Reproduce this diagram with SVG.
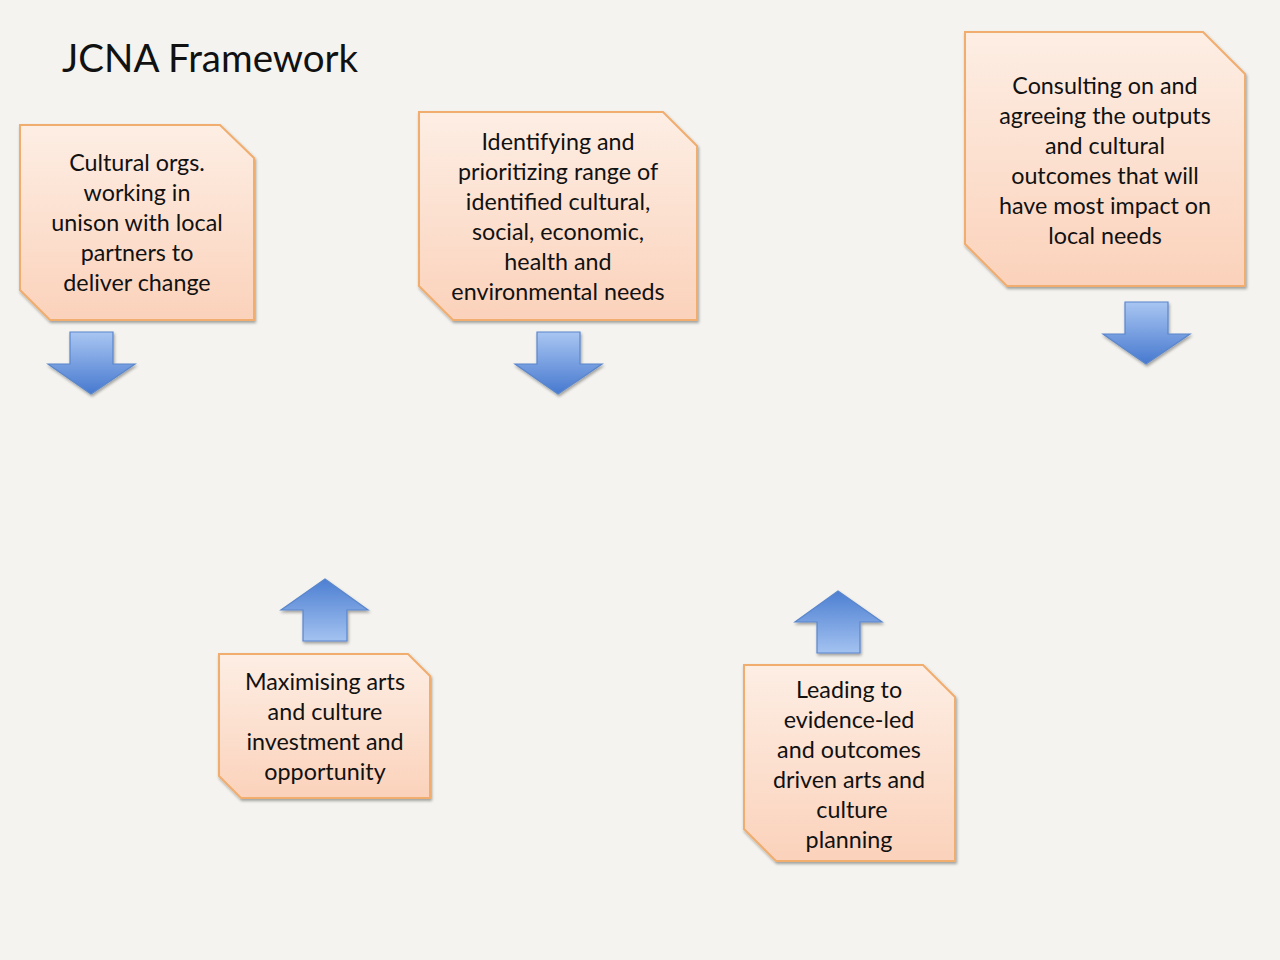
<svg xmlns="http://www.w3.org/2000/svg" width="1280" height="960" viewBox="0 0 1280 960">
<defs>
<linearGradient id="peach" x1="0" y1="0" x2="0" y2="1">
<stop offset="0" stop-color="#fdeee4"/>
<stop offset="1" stop-color="#fbd2bb"/>
</linearGradient>
<linearGradient id="blueDown" x1="0" y1="0" x2="0" y2="1">
<stop offset="0" stop-color="#a9c6f2"/>
<stop offset="1" stop-color="#4779cf"/>
</linearGradient>
<linearGradient id="blueUp" x1="0" y1="0" x2="0" y2="1">
<stop offset="0" stop-color="#4d7fd2"/>
<stop offset="1" stop-color="#a3c2f0"/>
</linearGradient>
<filter id="sh" x="-10%" y="-10%" width="130%" height="130%">
<feGaussianBlur in="SourceAlpha" stdDeviation="1.5"/>
<feOffset dx="1" dy="2" result="b"/>
<feComponentTransfer><feFuncA type="linear" slope="0.35"/></feComponentTransfer>
<feMerge><feMergeNode/><feMergeNode in="SourceGraphic"/></feMerge>
</filter>
</defs>
<style>
.box{fill:url(#peach);stroke:#f0ad6e;stroke-width:2;filter:url(#sh)}
.dn{fill:url(#blueDown);stroke:#5a86cc;stroke-width:1.2;filter:url(#sh)}
.up{fill:url(#blueUp);stroke:#5a86cc;stroke-width:1.2;filter:url(#sh)}
.t{font-family:Lato,"Liberation Sans",sans-serif;font-size:23.3px;fill:#111;text-anchor:middle}
.title{font-family:Lato,"Liberation Sans",sans-serif;font-size:38.5px;fill:#111}
</style>
<rect width="1280" height="960" fill="#f4f3ef"/>
<text class="title" x="62" y="72">JCNA Framework</text>

<g id="node1">
<path class="box" d="M20,125 H220 L254,158 V320 H50 L20,290 Z"/>
<text class="t"><tspan x="137" y="171">Cultural orgs.</tspan><tspan x="137" y="201">working in</tspan><tspan x="137" y="231">unison with local</tspan><tspan x="137" y="261">partners to</tspan><tspan x="137" y="291">deliver change</tspan></text>
</g>

<g id="node2">
<path class="box" d="M419,112 H663 L697,146 V320 H453 L419,286 Z"/>
<text class="t"><tspan x="558" y="150">Identifying and</tspan><tspan x="558" y="180">prioritizing range of</tspan><tspan x="558" y="210">identified cultural,</tspan><tspan x="558" y="240">social, economic,</tspan><tspan x="558" y="270">health and</tspan><tspan x="558" y="300">environmental needs</tspan></text>
</g>

<g id="node3">
<path class="box" d="M965,32 H1203 L1245,74 V286 H1007 L965,244 Z"/>
<text class="t"><tspan x="1105" y="94">Consulting on and</tspan><tspan x="1105" y="124">agreeing the outputs</tspan><tspan x="1105" y="154">and cultural</tspan><tspan x="1105" y="184">outcomes that will</tspan><tspan x="1105" y="214">have most impact on</tspan><tspan x="1105" y="244">local needs</tspan></text>
</g>

<g id="node4">
<path class="box" d="M219,654 H408 L430,676 V798 H241 L219,776 Z"/>
<text class="t"><tspan x="325" y="690">Maximising arts</tspan><tspan x="325" y="720">and culture</tspan><tspan x="325" y="750">investment and</tspan><tspan x="325" y="780">opportunity</tspan></text>
</g>

<g id="node5">
<path class="box" d="M744,665 H923 L955,697 V861 H776 L744,829 Z"/>
<text class="t"><tspan x="849" y="698">Leading to</tspan><tspan x="849" y="728">evidence-led</tspan><tspan x="849" y="758">and outcomes</tspan><tspan x="849" y="788">driven arts and</tspan><tspan x="852" y="818">culture</tspan><tspan x="849" y="848">planning</tspan></text>
</g>

<g id="connectors">
<path class="dn" d="M70,332 H113 V364 H135 L91,394 L48,364 H70 Z"/>
<path class="dn" d="M537,332 H580 V364 H602 L558,394 L515,364 H537 Z"/>
<path class="dn" d="M1125,302 H1168 V334 H1190 L1146,364 L1103,334 H1125 Z"/>
<path class="up" d="M303,641 H347 V610 H368 L325,579 L281,610 H303 Z"/>
<path class="up" d="M817,653 H860 V622 H882 L838,591 L795,622 H817 Z"/>
</g>
</svg>
